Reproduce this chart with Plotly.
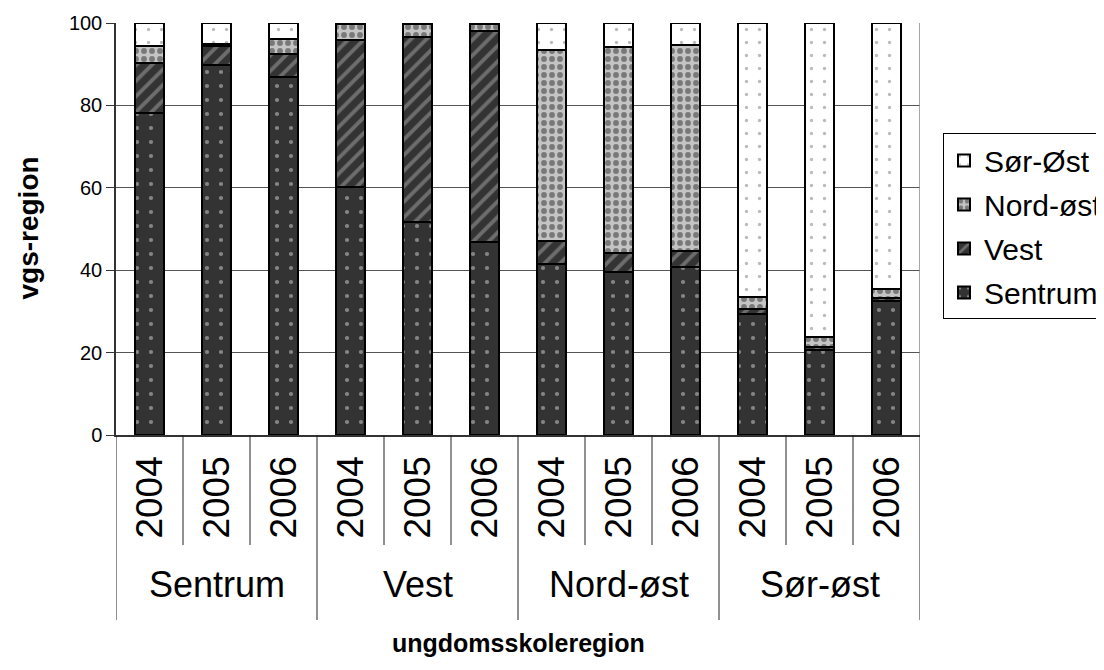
import plotly.graph_objects as go

groups = ["Sentrum", "Vest", "Nord-øst", "Sør-øst"]
years = ["2004", "2005", "2006"]

sentrum = [78.2, 89.8, 86.8, 60.3, 51.6, 46.9, 41.5, 39.5, 40.7, 29.3, 20.6, 32.6]
vest = [12.0, 4.7, 5.7, 35.6, 44.9, 51.2, 5.7, 4.6, 4.0, 1.3, 0.8, 0.7]
nordost = [4.2, 0.3, 3.5, 3.8, 3.2, 1.6, 46.2, 50.0, 50.0, 3.0, 2.5, 2.1]
sorost = [5.6, 5.2, 4.0, 0.3, 0.3, 0.3, 6.6, 5.9, 5.3, 66.4, 76.1, 64.6]

series_names = ["Sentrum", "Vest", "Nord-øst", "Sør-Øst"]
series_values = [sentrum, vest, nordost, sorost]
series_rank = [4, 3, 2, 1]
series_style = [
    dict(color="#333333", pattern=dict(shape=".", fgcolor="#d8d8d8", size=14, solidity=0.07, fillmode="overlay")),
    dict(color="#333333", pattern=dict(shape="/", fgcolor="#a8a8a8", size=11, solidity=0.35, fillmode="overlay")),
    dict(color="#c4c4c4", pattern=dict(shape=".", fgcolor="#2e2e2e", size=8, solidity=0.42, fillmode="overlay")),
    dict(color="#ffffff", pattern=dict(shape=".", fgcolor="#777777", size=13, solidity=0.05, fillmode="overlay")),
]

n = len(groups) * len(years)
xs = list(range(n))
year_labels = [y for g in groups for y in years]

FONT = "Liberation Sans, Arial, sans-serif"

fig = go.Figure()
for name, vals, st, rk in zip(series_names, series_values, series_style, series_rank):
    fig.add_trace(go.Bar(
        x=xs, y=vals, name=name, legendgroup=name, legendrank=rk,
        marker=dict(color=st["color"], pattern=st["pattern"],
                    line=dict(color="black", width=2)),
    ))

shapes = []
# right border of plot area (gray)
shapes.append(dict(type="line", xref="x", yref="y", x0=n - 0.5, x1=n - 0.5, y0=0, y1=100,
                   line=dict(color="#888888", width=1.5)))
# table lines below the axis
for i in range(n + 1):
    xb = i - 0.5
    is_group = (i % len(years) == 0)
    shapes.append(dict(type="line", xref="x", yref="paper", x0=xb, x1=xb,
                       y0=0, y1=-0.449 if is_group else -0.267,
                       line=dict(color="#222222", width=1)))

annotations = []
for i, yl in enumerate(year_labels):
    annotations.append(dict(x=i, y=-0.153, xref="x", yref="paper", text=yl,
                            textangle=-90, showarrow=False, xanchor="center", yanchor="middle",
                            font=dict(family=FONT, size=37, color="black")))
for gi, g in enumerate(groups):
    annotations.append(dict(x=gi * len(years) + 1, y=-0.364, xref="x", yref="paper", text=g,
                            showarrow=False, xanchor="center", yanchor="middle",
                            font=dict(family=FONT, size=36, color="black")))
annotations.append(dict(x=0.5, y=-0.505, xref="paper", yref="paper", text="<b>ungdomsskoleregion</b>",
                        showarrow=False, xanchor="center", yanchor="middle",
                        font=dict(family=FONT, size=25, color="black")))
annotations.append(dict(x=-0.109, y=0.502, xref="paper", yref="paper", text="<b>vgs-region</b>",
                        textangle=-90, showarrow=False, xanchor="center", yanchor="middle",
                        font=dict(family=FONT, size=28, color="black")))

fig.update_layout(
    width=1096, height=662, autosize=False,
    margin=dict(l=108, r=184, t=15, b=235, autoexpand=False),
    paper_bgcolor="white", plot_bgcolor="white",
    barmode="stack", bargap=0.58,
    font=dict(family=FONT, color="black"),
    shapes=shapes, annotations=annotations,
    legend=dict(x=1.0286, y=0.732, xanchor="left", yanchor="top",
                traceorder="grouped", tracegroupgap=2,
                bordercolor="black", borderwidth=1, bgcolor="white",
                font=dict(family=FONT, size=30, color="black")),
    xaxis=dict(range=[-0.5, n - 0.5], showticklabels=False, ticks="",
               showgrid=False, zeroline=False, showline=True,
               linecolor="#333333", linewidth=1.5, fixedrange=True),
    yaxis=dict(range=[0, 100], dtick=20, tick0=0, ticks="outside", ticklen=8,
               tickcolor="#333333", showline=True, linecolor="#333333", linewidth=1.5,
               showgrid=True, gridcolor="#555555", gridwidth=1, zeroline=False,
               tickfont=dict(family=FONT, size=20, color="black")),
)

fig.write_html("out.html")
